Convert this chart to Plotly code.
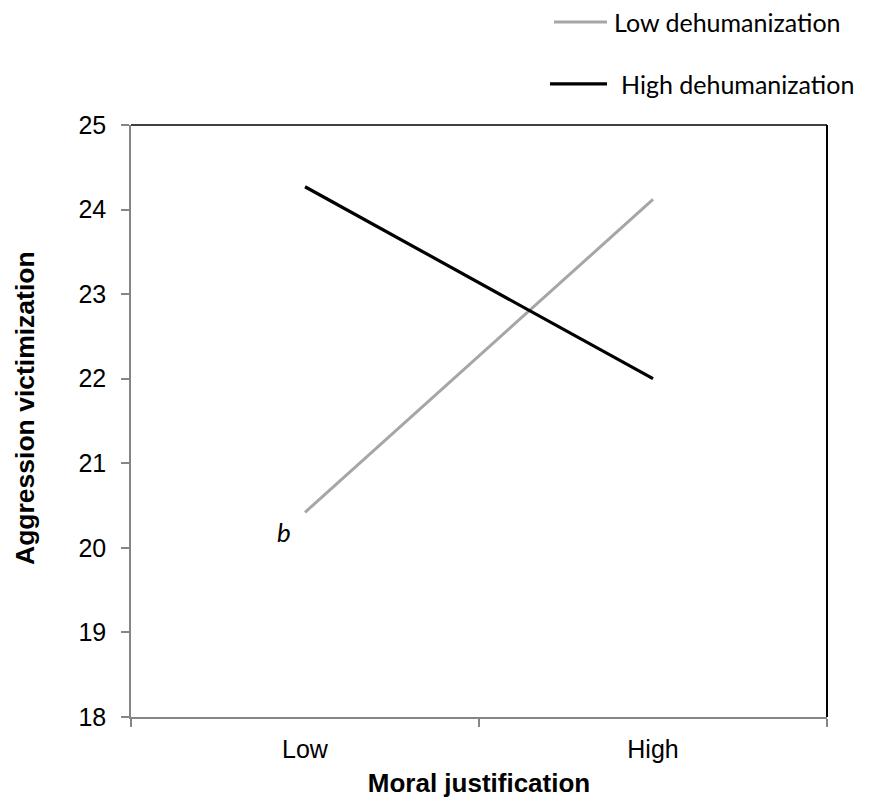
import plotly.graph_objects as go

categories = ["Low", "High"]
series_names = ["Low dehumanization", "High dehumanization"]
series_colors = ["#A6A6A6", "#000000"]
low_dehum = [20.42, 24.12]
high_dehum = [24.27, 22.0]
y_ticks = [18, 19, 20, 21, 22, 23, 24, 25]

fig = go.Figure()
fig.add_trace(go.Scatter(x=categories, y=low_dehum, mode="lines", name=series_names[0],
                         line=dict(color=series_colors[0], width=3), showlegend=False))
fig.add_trace(go.Scatter(x=categories, y=high_dehum, mode="lines", name=series_names[1],
                         line=dict(color=series_colors[1], width=3.2), showlegend=False))

tickfont = dict(family="Liberation Sans, Arial", size=25, color="#000")
titlefont = dict(family="Liberation Sans, Arial", size=26.5, color="#000")
legfont = dict(family="Lato", size=25, color="#000")

# manual legend (swatch line + label) placed above the plot area
leg_rows = [
    dict(x0=0.6078, x1=0.6839, y=1.174, tx=0.6911),
    dict(x0=0.6020, x1=0.6839, y=1.0693, tx=0.7012),
]
shapes = [
    dict(type="line", xref="paper", yref="paper", x0=0, x1=1, y0=1, y1=1,
         line=dict(color="#000", width=1.5)),
    dict(type="line", xref="paper", yref="paper", x0=1, x1=1, y0=0, y1=1,
         line=dict(color="#000", width=2)),
]
annotations = [
    dict(x="Low", y=20.19, xref="x", yref="y", text="<i>b</i>", showarrow=False,
         xshift=-21, font=dict(family="Lato", size=26, color="#000")),
    dict(x=0, y=0.522, xref="paper", yref="paper", text="<b>Aggression victimization</b>",
         textangle=-90, showarrow=False, xanchor="center", yanchor="middle",
         xshift=-106, font=titlefont),
]
for row, name, color in zip(leg_rows, series_names, series_colors):
    shapes.append(dict(type="line", xref="paper", yref="paper", x0=row["x0"], x1=row["x1"],
                       y0=row["y"], y1=row["y"], line=dict(color=color, width=3.2)))
    annotations.append(dict(x=row["tx"], y=row["y"], xref="paper", yref="paper", text=name,
                            showarrow=False, xanchor="left", yanchor="middle", font=legfont))

fig.update_layout(
    width=881, height=802,
    paper_bgcolor="white", plot_bgcolor="white",
    margin=dict(l=123, r=62, t=117, b=93),
    showlegend=False,
    xaxis=dict(type="category", categoryorder="array", categoryarray=categories,
               range=[-0.5, 1.5], tickson="boundaries", ticks="outside", ticklen=8,
               tickcolor="#868686", tickwidth=1.5, showline=True, linecolor="#868686",
               linewidth=1.5, showgrid=False, zeroline=False, tickfont=tickfont,
               ticklabelstandoff=9,
               title=dict(text="<b>Moral justification</b>",
                          font=dict(family="Liberation Sans, Arial", size=26, color="#000"),
                          standoff=12)),
    yaxis=dict(range=[18, 25], tickvals=y_ticks, ticks="outside", ticklen=8,
               tickcolor="#868686", tickwidth=1.5, showline=True, linecolor="#868686",
               linewidth=1.5, showgrid=False, zeroline=False, tickfont=tickfont,
               ticklabelstandoff=10),
    shapes=shapes,
    annotations=annotations,
)

fig.write_html("out.html")
